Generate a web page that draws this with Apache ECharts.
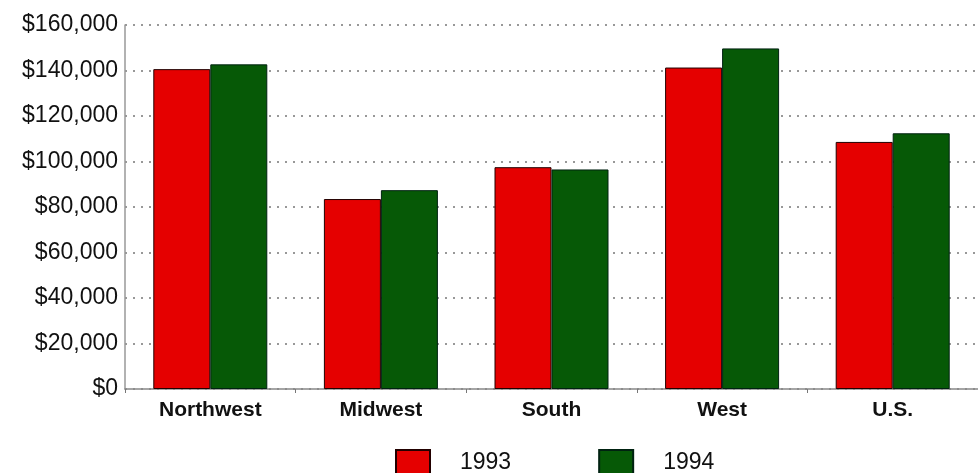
<!DOCTYPE html>
<html>
<head>
<meta charset="utf-8">
<script src="https://cdn.jsdelivr.net/npm/echarts@6/dist/echarts.min.js"></script>
<style>html,body{margin:0;padding:0;background:#fff}#c{width:978px;height:473px}</style>
</head>
<body>
<div id="c"></div>
<script>
const categories = ['Northwest', 'Midwest', 'South', 'West', 'U.S.'];
const values1993 = [140600, 83500, 97500, 141300, 108600];
const values1994 = [142700, 87400, 96500, 149700, 112400];
const seriesNames = ['1993', '1994'];

const chart = echarts.init(document.getElementById('c'));
const fmt = v => '$' + v.toLocaleString('en-US');
chart.setOption({
  backgroundColor: '#fff',
  animation: false,
  grid: { left: 125, right: 0, top: 25, bottom: 84 },
  legend: {
    left: 395, top: 449, padding: 0,
    icon: 'rect',
    itemWidth: 34, itemHeight: 26, itemGap: 87,
    textStyle: { fontFamily: 'Liberation Sans', fontSize: 23, color: '#111', padding: [4, 0, 0, 25] },
    data: seriesNames
  },
  xAxis: {
    type: 'category',
    data: categories,
    axisLine: { lineStyle: { color: '#888', width: 1.5 } },
    axisTick: { show: true, length: 4, lineStyle: { color: '#777' } },
    axisLabel: { fontFamily: 'Liberation Sans', fontSize: 21, fontWeight: 'bold', color: '#111', margin: 11 },
    splitLine: { show: false }
  },
  yAxis: {
    type: 'value',
    min: 0, max: 160000, interval: 20000,
    axisLine: { show: true, lineStyle: { color: '#999', width: 1.5 } },
    axisTick: { show: false },
    axisLabel: { fontFamily: 'Liberation Sans', fontSize: 23, color: '#111', margin: 7, formatter: fmt },
    splitLine: { show: true, lineStyle: { type: [2, 6], color: '#777', width: 1.5 } }
  },
  series: [
    { name: seriesNames[0], type: 'bar', data: values1993, barWidth: 57, barGap: '0%',
      itemStyle: { color: '#e50000', borderColor: '#200', borderWidth: 1 } },
    { name: seriesNames[1], type: 'bar', data: values1994, barWidth: 57,
      itemStyle: { color: '#065906', borderColor: '#021', borderWidth: 1 } }
  ]
});
</script>
</body>
</html>
